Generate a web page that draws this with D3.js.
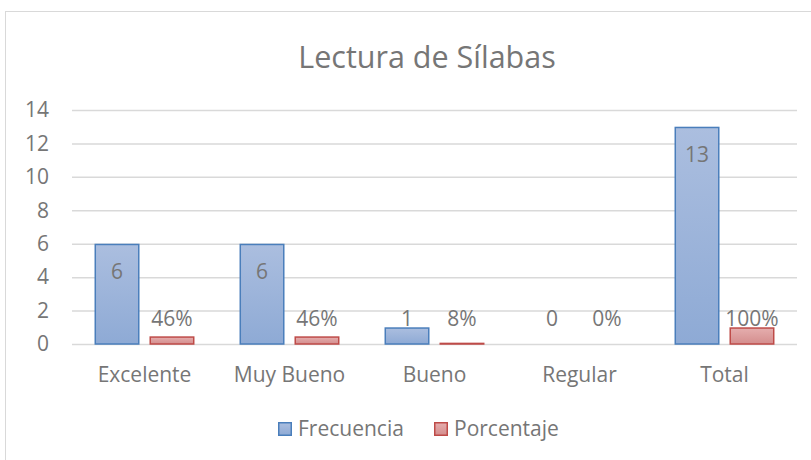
<!DOCTYPE html>
<html><head><meta charset="utf-8">
<script src="https://cdn.jsdelivr.net/npm/d3@7"></script>
<style>body{margin:0;background:#fff}svg{display:block}text{font-family:"Open Sans",sans-serif}</style>
</head><body><div id="chart"></div>
<script>
const categories = ["Excelente","Muy Bueno","Bueno","Regular","Total"];
const frecuencia = [6,6,1,0,13];
const porcentaje = [0.46,0.46,0.08,0,1];
const porcentajeLabels = ["46%","46%","8%","0%","100%"];
const seriesNames = ["Frecuencia","Porcentaje"];
const yTicks = [0,2,4,6,8,10,12,14];
const title = "Lectura de Sílabas";

const W=811,H=460;
const FONT='"Open Sans",sans-serif', FS=21, TC="#767676";
const svg=d3.select("#chart").append("svg").attr("width",W).attr("height",H);
const defs=svg.append("defs");
function grad(id,c1,c2){const g=defs.append("linearGradient").attr("id",id).attr("x1",0).attr("y1",0).attr("x2",0).attr("y2",1);
g.append("stop").attr("offset","0%").attr("stop-color",c1);g.append("stop").attr("offset","100%").attr("stop-color",c2);}
grad("gb","#abbedf","#8eaad5");grad("gr","#e5aeae","#d48d8d");
const fills=["url(#gb)","url(#gr)"],strokes=["#4a7ebb","#be4b48"];

svg.append("rect").attr("x",5.5).attr("y",11.5).attr("width",W).attr("height",H).attr("fill","none").attr("stroke","#d9d9d9");

const x=d3.scaleBand().domain(categories).range([72,797]);
const y=d3.scaleLinear().domain([0,14]).range([344,110]);
const xs=d3.scaleBand().domain(seriesNames).range([0,x.bandwidth()]).paddingInner(10/55).paddingOuter(0.41);

svg.append("text").attr("x",427).attr("y",68).attr("text-anchor","middle").attr("font-size",30.5).attr("fill",TC).text(title);

const ya=svg.append("g").attr("transform","translate(72,0)").call(d3.axisLeft(y).tickValues(yTicks).tickSize(-725).tickPadding(23));
ya.select(".domain").remove();
ya.selectAll(".tick line").attr("stroke","#d9d9d9").attr("stroke-width",1.5);
ya.selectAll(".tick text").attr("font-size",FS).attr("fill",TC).attr("font-family",FONT);

const xa=svg.append("g").attr("transform","translate(0,344)").call(d3.axisBottom(x).tickSize(0).tickPadding(23));
xa.select(".domain").remove();
xa.selectAll(".tick text").attr("font-size",FS).attr("fill",TC).attr("font-family",FONT);

const data=[frecuencia,porcentaje];
const bw=45;
data.forEach((vals,si)=>{
  const g=svg.append("g");
  categories.forEach((c,i)=>{
    const v=vals[i];
    const bx=x(c)+xs(seriesNames[si])+(xs.bandwidth()-bw)/2;
    if(v>0){
      g.append("rect").attr("x",bx+0.75).attr("y",y(v)+0.75).attr("width",bw-1.5).attr("height",Math.max(0,y(0)-y(v)-0.75))
        .attr("fill",fills[si]).attr("stroke",strokes[si]).attr("stroke-width",1.5);
    }
    const lab= si===0? String(v) : porcentajeLabels[i];
    const inside = si===0 && (y(0)-y(v))>40;
    const ly = inside ? y(v)+35 : y(0)-18;
    svg.append("text").attr("x",bx+bw/2).attr("y",ly).attr("text-anchor","middle").attr("font-size",FS).attr("fill",TC).text(lab);
  });
});

const leg=svg.append("g");
const lx=[278,434];
seriesNames.forEach((n,i)=>{
  leg.append("rect").attr("x",lx[i]+0.75).attr("y",422.75).attr("width",12.5).attr("height",12.5).attr("fill",fills[i]).attr("stroke",strokes[i]).attr("stroke-width",1.5);
  leg.append("text").attr("x",lx[i]+20).attr("y",436).attr("font-size",FS).attr("fill",TC).text(n);
});
</script></body></html>
